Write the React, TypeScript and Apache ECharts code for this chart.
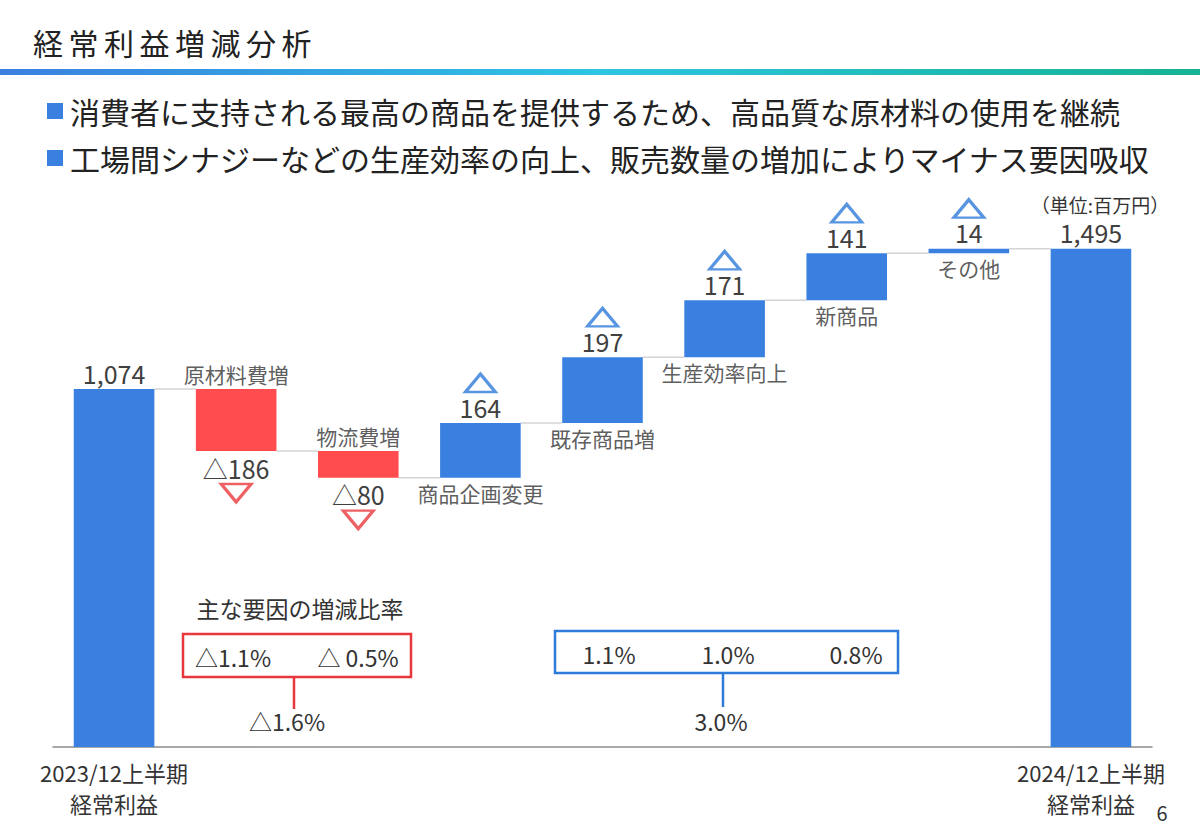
import React, { useEffect, useRef } from 'react';
import * as echarts from 'echarts';

const titleText = '経常利益増減分析';
const bullets = [
  '消費者に支持される最高の商品を提供するため、高品質な原材料の使用を継続',
  '工場間シナジーなどの生産効率の向上、販売数量の増加によりマイナス要因吸収',
];
const unitLabel = '（単位:百万円）';
const categories = [
  '2023/12上半期\n経常利益',
  '原材料費増',
  '物流費増',
  '商品企画変更',
  '既存商品増',
  '生産効率向上',
  '新商品',
  'その他',
  '2024/12上半期\n経常利益',
];
const startTotal = 1074;
const endTotal = 1495;
const deltas = [-186, -80, 164, 197, 171, 141, 14];
const ratioTitle = '主な要因の増減比率';
const negRatios = ['△1.1%', '△ 0.5%'];
const negRatioTotal = '△1.6%';
const posRatios = ['1.1%', '1.0%', '0.8%'];
const posRatioTotal = '3.0%';
const pageNo = '6';

const BLUE = '#3a80e0';
const RED = '#ff4d4f';
const TRI_BLUE = '#2e7ad9';
const TRI_RED = '#e8383d';
const FONT = '"Noto Sans CJK JP", "Noto Sans", sans-serif';
const TXT = '#333333';

export default function App() {
  const ref = useRef<HTMLDivElement>(null);
  useEffect(() => {
    if (!ref.current) return;
    const chart = echarts.init(ref.current, undefined, { renderer: 'svg' });

    const n = categories.length;
    const bases: number[] = [];
    const heights: number[] = [];
    const labels: string[] = [];
    const levels: number[] = [];
    const starts: number[] = [];
    const ends: number[] = [];
    bases.push(0);
    heights.push(startTotal);
    labels.push(startTotal.toLocaleString('en-US'));
    levels.push(startTotal);
    let cur = startTotal;
    deltas.forEach((d) => {
      const s = cur;
      const e = cur + d;
      starts.push(s);
      ends.push(e);
      bases.push(Math.min(s, e));
      heights.push(Math.abs(d));
      labels.push(d < 0 ? '△' + Math.abs(d) : String(d));
      levels.push(e);
      cur = e;
    });
    bases.push(0);
    heights.push(endTotal);
    labels.push(endTotal.toLocaleString('en-US'));

    const valueData = heights.map((h, i) => {
      const isDelta = i > 0 && i < n - 1;
      const neg = isDelta && deltas[i - 1] < 0;
      return {
        value: h,
        itemStyle: { color: neg ? RED : BLUE },
        label: { position: neg ? 'bottom' : 'top' },
      };
    });

    const catData = deltas.map((d, k) => ({
      value: [k + 1, starts[k]],
      label: { position: d < 0 ? 'top' : 'bottom' },
    }));

    const triData = deltas.map((d, k) => ({
      value: [k + 1, ends[k]],
      symbolRotate: d < 0 ? 180 : 0,
      symbolOffset: d < 0 ? [0, 42] : [0, -40],
      itemStyle: {
        color: 'rgba(0,0,0,0)',
        borderColor: d < 0 ? TRI_RED : TRI_BLUE,
        borderWidth: 3,
      },
    }));

    const connData = levels.slice(0, n - 1).map((lv, i) => [i, lv]);

    const graphics: any[] = [];
    Array.from(titleText).forEach((ch, i) => {
      graphics.push({
        type: 'text',
        x: 33 + i * 35.5,
        y: 42,
        style: { text: ch, fontSize: 30, fontFamily: FONT, fill: '#222', verticalAlign: 'middle', align: 'left' },
      });
    });
    graphics.push({
      type: 'rect',
      shape: { x: 0, y: 69, width: 1200, height: 6 },
      style: {
        fill: new echarts.graphic.LinearGradient(0, 0, 1, 0, [
          { offset: 0, color: '#3a7fe0' },
          { offset: 0.5, color: '#2ec5e3' },
          { offset: 1, color: '#16b393' },
        ]),
      },
    });
    bullets.forEach((b, i) => {
      const y = 111 + i * 47;
      graphics.push({ type: 'rect', shape: { x: 47, y: y - 8, width: 16, height: 16 }, style: { fill: BLUE } });
      graphics.push({
        type: 'text',
        x: 70,
        y,
        style: { text: b, fontSize: 30, fontFamily: FONT, fill: '#222', verticalAlign: 'middle', align: 'left' },
      });
    });
    graphics.push({
      type: 'text',
      x: 1100,
      y: 204,
      style: { text: unitLabel, fontSize: 19, fontFamily: FONT, fill: TXT, verticalAlign: 'middle', align: 'center' },
    });
    const t = (text: string, x: number, y: number, size = 23) => ({
      type: 'text',
      x,
      y,
      style: { text, fontSize: size, fontFamily: FONT, fill: TXT, verticalAlign: 'middle', align: 'center' },
    });
    graphics.push(t(ratioTitle, 300, 608, 23));
    graphics.push({
      type: 'rect',
      shape: { x: 183, y: 634, width: 228, height: 43 },
      style: { fill: 'none', stroke: TRI_RED, lineWidth: 2.5 },
    });
    [233, 358].forEach((x, i) => graphics.push(t(negRatios[i], x, 657)));
    graphics.push({ type: 'line', shape: { x1: 294, y1: 677, x2: 294, y2: 709 }, style: { stroke: TRI_RED, lineWidth: 2.5 } });
    graphics.push(t(negRatioTotal, 287, 721));
    graphics.push({
      type: 'rect',
      shape: { x: 555, y: 631, width: 343, height: 42 },
      style: { fill: 'none', stroke: TRI_BLUE, lineWidth: 2.5 },
    });
    [609, 728, 856].forEach((x, i) => graphics.push(t(posRatios[i], x, 654)));
    graphics.push({ type: 'line', shape: { x1: 723, y1: 673, x2: 723, y2: 707 }, style: { stroke: TRI_BLUE, lineWidth: 2.5 } });
    graphics.push(t(posRatioTotal, 721, 721));
    graphics.push(t(pageNo, 1162, 812, 20));

    chart.setOption({
      animation: false,
      backgroundColor: '#ffffff',
      grid: { left: 53, right: 48, top: 247, bottom: 84, containLabel: false },
      xAxis: {
        type: 'category',
        data: categories,
        axisLine: { show: true, lineStyle: { color: '#8c8c8c', width: 1.5 } },
        axisTick: { show: false },
        axisLabel: {
          interval: 0,
          margin: 9,
          fontSize: 22,
          lineHeight: 31,
          color: TXT,
          fontFamily: FONT,
          formatter: (v: string, i: number) => (i === 0 || i === n - 1 ? v : ''),
        },
      },
      yAxis: { type: 'value', min: 0, max: 1500, show: false, splitLine: { show: false } },
      series: [
        {
          name: 'base',
          type: 'bar',
          stack: 'w',
          barWidth: '66%',
          silent: true,
          itemStyle: { color: 'rgba(0,0,0,0)' },
          data: bases,
        },
        {
          name: 'value',
          type: 'bar',
          stack: 'w',
          barWidth: '66%',
          data: valueData,
          label: {
            show: true,
            distance: 4,
            fontSize: 25,
            color: '#404040',
            fontFamily: FONT,
            formatter: (p: any) => labels[p.dataIndex],
          },
        },
        {
          name: 'connectors',
          type: 'custom',
          silent: true,
          z: 1,
          encode: { x: 0, y: 1 },
          data: connData,
          renderItem: (params: any, api: any) => {
            const p = api.coord([api.value(0), api.value(1)]);
            const w = api.size([1, 0])[0];
            const half = (w * 0.66) / 2;
            return {
              type: 'line',
              shape: { x1: p[0] + half, y1: p[1], x2: p[0] + w - half, y2: p[1] },
              style: { stroke: '#d4d4d4', lineWidth: 1.5 },
            };
          },
        },
        {
          name: 'categories',
          type: 'scatter',
          symbolSize: 1,
          silent: true,
          itemStyle: { color: 'rgba(0,0,0,0)' },
          data: catData,
          label: {
            show: true,
            distance: 4,
            fontSize: 21,
            color: TXT,
            fontFamily: FONT,
            formatter: (p: any) => categories[p.value[0]],
          },
        },
        {
          name: 'arrows',
          type: 'scatter',
          symbol: 'triangle',
          symbolSize: [30, 18],
          silent: true,
          data: triData,
        },
      ],
      graphic: graphics,
    });
    return () => chart.dispose();
  }, []);
  return (
    <div
      ref={ref}
      style={{ position: 'absolute', left: 0, top: 0, width: 1200, height: 831, background: '#fff' }}
    />
  );
}
